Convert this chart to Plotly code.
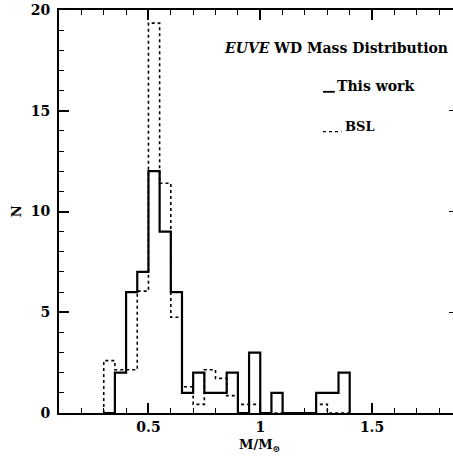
import plotly.graph_objects as go

# Histogram bins (left edges), width 0.05 in M/Msun
bin_left = [0.30, 0.35, 0.40, 0.45, 0.50, 0.55, 0.60, 0.65, 0.70, 0.75, 0.80,
            0.85, 0.90, 0.95, 1.00, 1.05, 1.10, 1.15, 1.20, 1.25, 1.30, 1.35]
bin_width = 0.05
this_work = [0, 2, 6, 7, 12, 9, 6, 1, 2, 1, 1,
             2, 0, 3, 0, 1, 0, 0, 0, 1, 1, 2]
bsl = [2.6, 2.15, 2.15, 6.05, 19.35, 11.4, 4.75, 1.3, 0.43, 2.15, 1.72,
       0.86, 0.43, 0.43, 0, 0, 0, 0, 0, 0.43, 0, 0]

x_ticks = [0.5, 1, 1.5]
x_ticklabels = ["0.5", "1", "1.5"]
y_ticks = [0, 5, 10, 15, 20]


def step_xy(left, vals, w):
    xs = [left[0]]
    ys = [0]
    for l, v in zip(left, vals):
        xs.append(l)
        ys.append(v)
    xs.append(left[-1] + w)
    ys.append(vals[-1])
    xs.append(left[-1] + w)
    ys.append(0)
    return xs, ys


FONT = "DejaVu Serif"

fig = go.Figure()
bx, by = step_xy(bin_left, bsl, bin_width)
fig.add_trace(go.Scatter(x=bx, y=by, mode="lines", line_shape="hv",
                         line=dict(color="black", width=1.6, dash="dot"),
                         name="BSL", showlegend=False))
tx, ty = step_xy(bin_left, this_work, bin_width)
fig.add_trace(go.Scatter(x=tx, y=ty, mode="lines", line_shape="hv",
                         line=dict(color="black", width=2.2),
                         name="This work", showlegend=False))
# invisible trace for right-side y ticks
fig.add_trace(go.Scatter(x=[1.0], y=[0], yaxis="y2", mode="markers",
                         marker=dict(opacity=0), showlegend=False, hoverinfo="skip"))

fig.update_layout(
    width=453, height=459,
    margin=dict(l=59, r=0, t=10, b=46),
    paper_bgcolor="white", plot_bgcolor="white",
    font=dict(family=FONT, color="black", size=13, weight="bold"),
    xaxis=dict(range=[0.1, 1.862], tickvals=x_ticks, ticktext=x_ticklabels,
               ticks="inside", ticklen=10, tickwidth=1.5, tickcolor="black",
               minor=dict(ticks="inside", ticklen=5, tickwidth=1.2, dtick=0.1,
                          tick0=0, tickcolor="black"),
               showline=True, linecolor="black", linewidth=2, mirror="ticks",
               showgrid=False, zeroline=False, automargin=False,
               tickfont=dict(family=FONT, size=14, weight="bold")),
    yaxis=dict(range=[0, 20], tickvals=y_ticks,
               ticks="inside", ticklen=10, tickwidth=1.5, tickcolor="black",
               minor=dict(ticks="inside", ticklen=5, tickwidth=1.2, dtick=1,
                          tick0=0, tickcolor="black"),
               showline=True, linecolor="black", linewidth=2,
               showgrid=False, zeroline=False, ticklabelstandoff=4,
               automargin=False,
               tickfont=dict(family=FONT, size=14, weight="bold")),
    yaxis2=dict(range=[0, 20], overlaying="y", side="right", anchor="x",
                tickvals=[5, 10, 15], ticks="inside", ticklen=4, tickwidth=1.2,
                tickcolor="black", showticklabels=False, showline=False,
                showgrid=False, zeroline=False, automargin=False),
)

fig.add_annotation(xref="paper", yref="paper", x=0.703, y=0.905,
                   text="<i>EUVE</i> WD Mass Distribution", showarrow=False,
                   xanchor="center", yanchor="middle",
                   font=dict(family=FONT, size=14, weight="bold"))
fig.add_annotation(xref="paper", yref="paper", x=0.70, y=0.811,
                   text="This work", showarrow=False, xanchor="left", yanchor="middle",
                   font=dict(family=FONT, size=14, weight="bold"))
fig.add_annotation(xref="paper", yref="paper", x=0.72, y=0.712,
                   text="BSL", showarrow=False, xanchor="left", yanchor="middle",
                   font=dict(family=FONT, size=13, weight="bold"))
fig.add_shape(type="line", xref="paper", yref="paper", x0=0.67, x1=0.70,
              y0=0.797, y1=0.797, line=dict(color="black", width=1.8))
fig.add_shape(type="line", xref="paper", yref="paper", x0=0.67, x1=0.717,
              y0=0.698, y1=0.698, line=dict(color="black", width=1.3, dash="dot"))
fig.add_annotation(xref="paper", yref="paper", x=-0.107, y=0.5,
                   text="N", showarrow=False, textangle=-90,
                   xanchor="center", yanchor="middle",
                   font=dict(family=FONT, size=13, weight="bold"))
fig.add_annotation(xref="paper", yref="paper", x=0.51, y=-0.08,
                   text="M/M<sub>⊙</sub>", showarrow=False,
                   xanchor="center", yanchor="middle",
                   font=dict(family=FONT, size=13, weight="bold"))

fig.write_html("out.html",
               config={"displayModeBar": False},
               post_script="document.body.style.margin='0';"
                           "document.body.style.overflow='hidden';")
